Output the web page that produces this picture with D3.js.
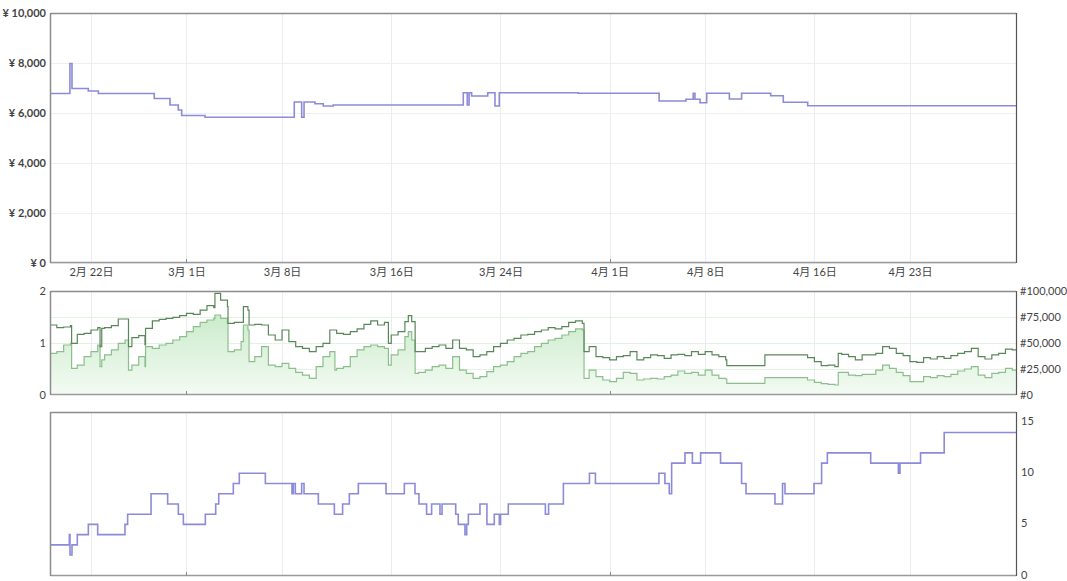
<!DOCTYPE html>
<html><head><meta charset="utf-8">
<script src="https://cdn.jsdelivr.net/npm/d3@7"></script>
<style>
body{margin:0;background:#fff;}
svg text{font-family:"Lato","Noto Sans CJK JP",sans-serif;}
</style>
</head><body>
<svg id="c" width="1067" height="581"></svg>
<script>
// ---------- DATA ----------
const domainStart = "02-19 00:00", domainEnd = "04-30 18:30";
const dateTicks = ["02-22 00:00","03-01 00:00","03-08 00:00","03-16 00:00","03-24 00:00","04-01 00:00","04-08 00:00","04-16 00:00","04-23 00:00"];
const monthTicks = ["03-01 00:00","04-01 00:00"];
const priceTicks = [0,2000,4000,6000,8000,10000];
const rankTicks = [0,25000,50000,75000,100000];
const leftMidTicks = [0,1,2];
const countTicks = [0,5,10,15];

const priceDates = ["02-19 00:00","02-20 11:00","02-20 14:40","02-21 19:20","02-22 13:00","02-26 15:20","02-27 19:00","02-28 09:35","02-28 15:30","03-02 08:30","03-08 21:30","03-09 10:30","03-09 14:40","03-10 10:00","03-11 00:30","03-11 18:00","03-21 06:40","03-21 13:40","03-21 16:50","03-21 21:20","03-23 01:40","03-23 14:25","03-23 22:00","03-29 16:20","04-04 15:00","04-06 14:10","04-07 03:00","04-07 06:00","04-07 15:00","04-08 02:40","04-09 18:30","04-10 16:00","04-12 19:10","04-13 17:20","04-15 12:15","04-30 18:30"];
const priceValues = [6780,7980,6980,6880,6780,6580,6320,6120,5900,5830,6440,5830,6440,6370,6280,6320,6810,6320,6810,6680,6810,6280,6810,6790,6480,6550,6790,6550,6410,6790,6560,6790,6690,6430,6290,6290];

const rankDates = ["02-19 00:00","02-19 12:00","02-20 00:00","02-20 12:00","02-20 14:00","02-21 00:00","02-21 12:00","02-22 00:00","02-22 12:00","02-22 16:00","02-22 19:00","02-23 00:00","02-23 12:00","02-24 00:00","02-24 12:00","02-24 18:00","02-25 00:00","02-25 12:00","02-25 23:00","02-26 00:00","02-26 12:00","02-27 00:00","02-27 12:00","02-28 00:00","02-28 12:00","03-01 00:00","03-01 12:00","03-02 00:00","03-02 12:00","03-03 00:00","03-03 02:00","03-03 12:00","03-04 00:00","03-04 01:00","03-04 12:00","03-05 00:00","03-05 04:00","03-05 12:00","03-05 14:00","03-06 00:00","03-06 12:00","03-07 00:00","03-07 12:00","03-08 00:00","03-08 12:00","03-09 00:00","03-09 12:00","03-10 00:00","03-10 12:00","03-11 00:00","03-11 12:00","03-11 21:00","03-12 00:00","03-12 12:00","03-13 00:00","03-13 12:00","03-14 00:00","03-14 12:00","03-15 00:00","03-15 12:00","03-15 19:00","03-16 00:00","03-16 12:00","03-17 00:00","03-17 06:00","03-17 12:00","03-17 18:00","03-18 00:00","03-18 12:00","03-19 00:00","03-19 12:00","03-20 00:00","03-20 12:00","03-21 00:00","03-21 12:00","03-22 00:00","03-22 12:00","03-23 00:00","03-23 12:00","03-24 00:00","03-24 12:00","03-25 00:00","03-25 12:00","03-26 00:00","03-26 12:00","03-27 00:00","03-27 12:00","03-28 00:00","03-28 12:00","03-29 00:00","03-29 12:00","03-30 00:00","03-30 03:00","03-30 12:00","03-31 00:00","03-31 12:00","04-01 00:00","04-01 12:00","04-02 00:00","04-02 12:00","04-03 00:00","04-03 12:00","04-04 00:00","04-04 12:00","04-05 00:00","04-05 12:00","04-06 00:00","04-06 12:00","04-07 00:00","04-07 12:00","04-08 00:00","04-08 12:00","04-09 00:00","04-09 12:00","04-09 14:00","04-12 08:00","04-12 09:00","04-15 11:00","04-15 12:00","04-16 00:00","04-16 12:00","04-17 00:00","04-17 12:00","04-17 18:00","04-18 00:00","04-18 12:00","04-19 00:00","04-19 12:00","04-20 00:00","04-20 12:00","04-21 00:00","04-21 12:00","04-22 00:00","04-22 12:00","04-23 00:00","04-23 12:00","04-24 00:00","04-24 12:00","04-25 00:00","04-25 12:00","04-26 00:00","04-26 12:00","04-27 00:00","04-27 12:00","04-28 00:00","04-28 12:00","04-29 00:00","04-29 12:00","04-30 00:00","04-30 12:00","04-30 18:30"];
const rankMain = [67300,64700,65400,66700,49700,58300,59300,62500,64700,46500,64100,64700,66700,73100,73100,46500,55100,57000,48100,64100,71200,72800,73700,74700,76300,78500,77600,81700,85900,84000,97800,91300,84900,68900,69900,69900,84900,81700,67300,67900,67300,57700,52900,62500,51300,46500,44900,41700,46500,49700,62500,62500,59300,58300,60900,63500,67900,71200,67300,69900,49700,57700,60900,70500,76300,70500,41700,41700,44900,46500,48100,44900,52900,44900,43300,36900,38500,41700,46500,49700,52900,54500,57700,58300,60900,62500,64700,63500,65700,69900,71200,68900,41700,46500,36900,35900,33700,36900,37800,41700,33700,35900,38500,37800,35300,38500,39100,37800,41700,39100,41700,38500,36900,33700,28200,28200,38500,38500,35900,32100,28200,28800,27200,40100,39100,36900,33700,38500,38500,40100,46500,44900,40100,37800,32100,31400,35900,34600,36900,35300,37800,40100,41700,44900,36900,34600,38500,40100,44200,43300,43300];
const rankSub = [40100,41700,48100,49700,25600,28800,36900,41700,48100,27200,33700,38500,43300,49700,52900,24000,28800,36900,27200,46500,44900,48100,49700,52900,56100,60900,65700,69900,72100,73700,76900,73700,68900,41700,43300,51300,67300,62500,32100,36900,46500,28800,27200,30400,25600,21800,19200,16000,27200,36900,41700,24000,25600,27200,36900,43300,46500,48100,46500,44900,28800,38500,43300,56100,60900,52900,20800,21800,24000,27200,28800,25600,36900,24000,20800,16000,17600,22400,27200,28800,32100,36900,40100,41700,46500,49700,52900,54500,57700,60900,63500,62500,16000,24000,17600,14400,12800,16000,21800,20800,14400,15400,16000,15400,17600,19200,23100,20800,21800,19200,24000,19200,16000,15400,11200,11200,16700,16700,14400,12200,10900,10300,9600,21800,21800,19200,18600,19900,19900,24000,28800,25600,21800,18600,12800,12800,17600,16700,18600,17600,19900,23100,25000,27200,19200,16700,20800,21800,25600,24000,24000];

const countDates = ["02-19 00:00","02-20 10:00","02-20 11:10","02-20 14:40","02-21 00:00","02-21 19:25","02-22 11:50","02-24 11:50","02-24 16:30","02-26 09:40","02-27 14:50","02-28 09:40","02-28 18:30","03-02 09:10","03-03 03:20","03-03 08:40","03-04 10:20","03-04 20:50","03-06 18:40","03-08 17:30","03-08 19:50","03-08 23:20","03-09 10:30","03-09 14:40","03-10 15:50","03-11 20:00","03-12 10:30","03-12 22:20","03-13 14:10","03-15 14:50","03-16 23:00","03-17 17:45","03-18 00:45","03-18 14:10","03-18 23:00","03-19 13:40","03-19 17:20","03-20 17:20","03-20 21:50","03-21 09:35","03-21 12:40","03-21 15:35","03-22 12:00","03-23 00:15","03-23 13:10","03-23 22:00","03-24 00:15","03-24 13:50","03-27 07:00","03-27 12:40","03-28 14:40","03-30 12:30","03-30 23:00","04-04 14:40","04-05 01:10","04-05 08:50","04-05 13:00","04-06 12:30","04-07 01:30","04-07 16:00","04-09 03:00","04-10 16:00","04-10 23:50","04-13 02:40","04-13 16:00","04-13 20:20","04-15 23:20","04-16 12:40","04-16 22:50","04-20 03:00","04-22 03:40","04-22 06:30","04-23 18:40","04-25 12:15","04-30 18:30"];
const countValues = [3,4,2,3,4,5,4,5,6,8,7,6,5,6,7,8,9,10,9,8,9,8,9,8,7,6,7,8,9,8,9,8,7,6,7,6,7,6,5,4,5,6,7,5,6,5,6,7,6,7,9,10,9,10,9,8,11,12,11,12,11,9,8,7,9,8,9,11,12,11,10,11,12,14,14];

// ---------- CHART ----------
const parse = s => d3.timeParse("%Y-%m-%d %H:%M")("2023-" + s);
const svg = d3.select("#c");
const L = 50, R = 1016;
const x = d3.scaleTime().domain([parse(domainStart), parse(domainEnd)]).range([L, R]);

const P1 = {top: 13, bottom: 263};
const P2 = {top: 291, bottom: 395};
const P3 = {top: 412, bottom: 576};

const yPrice = d3.scaleLinear().domain([0, 10000]).range([P1.bottom, P1.top]);
const yRank = d3.scaleLinear().domain([0, 100000]).range([P2.bottom, P2.top]);
const yLeftMid = d3.scaleLinear().domain([0, 2]).range([P2.bottom, P2.top]);
const yCount = d3.scaleLinear().domain([0, 16]).range([575.5, P3.top]);

const tickDates = dateTicks.map(parse);
const monthDates = monthTicks.map(parse);

const defs = svg.append("defs");
const grad = defs.append("linearGradient").attr("id","g1")
  .attr("gradientUnits","userSpaceOnUse").attr("x1",0).attr("x2",0)
  .attr("y1",P2.top).attr("y2",P2.bottom);
grad.append("stop").attr("offset","0%").attr("stop-color","#bfe6bf");
grad.append("stop").attr("offset","100%").attr("stop-color","#f4fbf4");

function vGrid(p){
  svg.append("g").selectAll("line").data(tickDates).join("line")
    .attr("x1",d=>Math.round(x(d))+0.5).attr("x2",d=>Math.round(x(d))+0.5)
    .attr("y1",p.top).attr("y2",p.bottom)
    .attr("stroke","#ececf0").attr("stroke-width",1);
}
function frame(p){
  const g = svg.append("g");
  g.append("line").attr("x1",L+0.5).attr("x2",R).attr("y1",p.top+0.5).attr("y2",p.top+0.5).attr("stroke","#8c8c8c").attr("stroke-width",1.5);
  g.append("line").attr("x1",L+0.5).attr("x2",R).attr("y1",p.bottom-0.5).attr("y2",p.bottom-0.5).attr("stroke","#9a9a9a").attr("stroke-width",1.5);
  g.append("line").attr("x1",L+0.5).attr("x2",L+0.5).attr("y1",p.top).attr("y2",p.bottom).attr("stroke","#8c8c8c").attr("stroke-width",1.5);
  g.append("line").attr("x1",R+0.5).attr("x2",R+0.5).attr("y1",p.top).attr("y2",p.bottom).attr("stroke","#555").attr("stroke-width",1.2);
  g.selectAll(".mt").data(monthDates).join("line")
    .attr("x1",d=>Math.round(x(d))+0.5).attr("x2",d=>Math.round(x(d))+0.5)
    .attr("y1",p.bottom-4).attr("y2",p.bottom).attr("stroke","#888");
}

// ---- Panel 1: price ----
vGrid(P1);
svg.append("g").selectAll("line").data(priceTicks).join("line")
  .attr("x1",L).attr("x2",R).attr("y1",d=>Math.round(yPrice(d))+0.5).attr("y2",d=>Math.round(yPrice(d))+0.5)
  .attr("stroke","#efeff2");
const priceData = priceDates.map((d,i)=>({t:parse(d), v:priceValues[i]}));
svg.append("path").datum(priceData)
  .attr("fill","none").attr("stroke","#8b8bd9").attr("stroke-width",1.6)
  .attr("d", d3.line().curve(d3.curveStepAfter).x(d=>x(d.t)).y(d=>yPrice(d.v)));
frame(P1);
const axP = svg.append("g").attr("transform",`translate(${L-2},0)`)
  .call(d3.axisLeft(yPrice).tickValues(priceTicks).tickSize(0).tickPadding(2)
    .tickFormat(v=>"¥ " + d3.format(",")(v)));
axP.select(".domain").remove();
axP.selectAll("text").attr("font-size",11).attr("font-weight","bold").attr("fill","#444");

const axX = svg.append("g").attr("transform",`translate(0,${P1.bottom+1})`)
  .call(d3.axisBottom(x).tickValues(tickDates).tickSize(0).tickPadding(4)
    .tickFormat(d=>`${d.getMonth()+1}月 ${d.getDate()}日`));
axX.select(".domain").remove();
axX.selectAll("text").attr("font-size",11).attr("fill","#444");

// ---- Panel 2: rank ----
vGrid(P2);
svg.append("g").selectAll("line").data(rankTicks.slice(1,4)).join("line")
  .attr("x1",L).attr("x2",R).attr("y1",d=>Math.round(yRank(d))+0.5).attr("y2",d=>Math.round(yRank(d))+0.5)
  .attr("stroke","#e3f3e3");
const rankData = rankDates.map((d,i)=>({t:parse(d), a:rankMain[i], b:rankSub[i]}));
svg.append("path").datum(rankData).attr("fill","url(#g1)")
  .attr("d", d3.area().curve(d3.curveStepAfter).x(d=>x(d.t)).y0(P2.bottom).y1(d=>yRank(d.b)));
svg.append("path").datum(rankData).attr("fill","none").attr("stroke","#8dbf8d").attr("stroke-width",1.2)
  .attr("d", d3.line().curve(d3.curveStepAfter).x(d=>x(d.t)).y(d=>yRank(d.b)));
svg.append("path").datum(rankData).attr("fill","none").attr("stroke","#5a875a").attr("stroke-width",1.2)
  .attr("d", d3.line().curve(d3.curveStepAfter).x(d=>x(d.t)).y(d=>yRank(d.a)));
frame(P2);
const axL2 = svg.append("g").attr("transform",`translate(${L-2},0)`)
  .call(d3.axisLeft(yLeftMid).tickValues(leftMidTicks).tickSize(0).tickPadding(2).tickFormat(d3.format("d")));
axL2.select(".domain").remove();
axL2.selectAll("text").attr("font-size",11).attr("fill","#444");
const axR2 = svg.append("g").attr("transform",`translate(${R+3},0)`)
  .call(d3.axisRight(yRank).tickValues(rankTicks).tickSize(0).tickPadding(1).tickFormat(v=>"#"+d3.format(",")(v)));
axR2.select(".domain").remove();
axR2.selectAll("text").attr("font-size",11).attr("fill","#444");

// ---- Panel 3: count ----
vGrid(P3);
const countData = countDates.map((d,i)=>({t:parse(d), v:countValues[i]}));
svg.append("path").datum(countData)
  .attr("fill","none").attr("stroke","#8b8bd9").attr("stroke-width",1.6)
  .attr("d", d3.line().curve(d3.curveStepAfter).x(d=>x(d.t)).y(d=>yCount(d.v)));
frame(P3);
const axR3 = svg.append("g").attr("transform",`translate(${R+3},-1)`)
  .call(d3.axisRight(yCount).tickValues(countTicks).tickSize(0).tickPadding(2));
axR3.select(".domain").remove();
axR3.selectAll("text").attr("font-size",11).attr("fill","#444");
</script>
</body></html>
